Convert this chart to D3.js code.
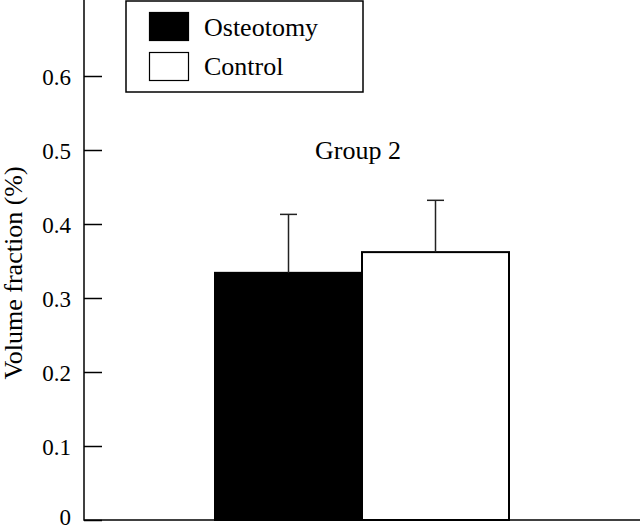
<!DOCTYPE html>
<html>
<head>
<meta charset="utf-8">
<script src="https://cdn.jsdelivr.net/npm/d3@7"></script>
<style>
  html, body { margin: 0; padding: 0; background: #fff; }
  svg { display: block; }
</style>
</head>
<body>
<svg id="chart" width="640" height="529"></svg>
<script>
const groups = ["Group 2"];
const series = ["Osteotomy", "Control"];
const means = [0.334, 0.362];
const errors = [0.079, 0.070];
const fills = ["#000000", "#ffffff"];
const yTicks = [0, 0.1, 0.2, 0.3, 0.4, 0.5, 0.6];
const yLabel = "Volume fraction (%)";

const FONT = "'Liberation Serif'";
const svg = d3.select("#chart");
const x0 = 84, y0 = 520;

const y = d3.scaleLinear().domain([0, 0.7]).range([y0, 2]);
const xGroup = d3.scaleBand().domain(groups).range([215, 509]).padding(0);
const xSeries = d3.scaleBand().domain(series).range([0, xGroup.bandwidth()]).padding(0);

// bars
const g = svg.append("g");
series.forEach((s, i) => {
  const bx = xGroup(groups[0]) + xSeries(s);
  const bw = xSeries.bandwidth();
  g.append("rect")
    .attr("x", bx).attr("y", y(means[i]))
    .attr("width", bw).attr("height", y0 - y(means[i]))
    .attr("fill", fills[i]).attr("stroke", "#000").attr("stroke-width", 2);
  const cx = bx + bw / 2;
  g.append("line")
    .attr("x1", cx).attr("x2", cx)
    .attr("y1", y(means[i])).attr("y2", y(means[i] + errors[i]))
    .attr("stroke", "#222").attr("stroke-width", 1.5);
  g.append("line")
    .attr("x1", cx - 8.5).attr("x2", cx + 8.5)
    .attr("y1", y(means[i] + errors[i])).attr("y2", y(means[i] + errors[i]))
    .attr("stroke", "#222").attr("stroke-width", 1.5);
});

// y axis
const yAxis = d3.axisRight(y).tickValues(yTicks).tickSize(18).tickFormat(d => d === 0 ? "0" : d3.format(".1f")(d));
const ag = svg.append("g").attr("transform", `translate(${x0},0)`).call(yAxis);
ag.attr("font-family", null).attr("font-size", null);
ag.select(".domain").remove();
ag.selectAll(".tick line").attr("stroke", "#000").attr("stroke-width", 1.5);
ag.selectAll(".tick text")
  .attr("x", -13).attr("text-anchor", "end")
  .attr("dy", d => d === 0 ? "0.2em" : "0.35em")
  .attr("fill", "#000")
  .style("font-size", "23px").style("font-family", FONT);

svg.append("line").attr("x1", x0).attr("x2", x0).attr("y1", 0).attr("y2", y0 + 0.75)
  .attr("stroke", "#000").attr("stroke-width", 1.5);
svg.append("line").attr("x1", x0).attr("x2", 640).attr("y1", y0).attr("y2", y0)
  .attr("stroke", "#000").attr("stroke-width", 1.5);

// y label
svg.append("text")
  .attr("transform", `translate(22, 273) rotate(-90)`)
  .attr("text-anchor", "middle")
  .style("font-size", "26px").style("font-family", FONT)
  .text(yLabel);

// group label
svg.append("text")
  .attr("x", xGroup(groups[0]) + xGroup.bandwidth() / 2 - 4).attr("y", 159)
  .attr("text-anchor", "middle")
  .style("font-size", "26px").style("font-family", FONT)
  .text(groups[0]);

// legend
const lg = svg.append("g");
lg.append("rect").attr("x", 126).attr("y", 1).attr("width", 237).attr("height", 91)
  .attr("fill", "#fff").attr("stroke", "#000").attr("stroke-width", 1.5);
series.forEach((s, i) => {
  lg.append("rect").attr("x", 149.5).attr("y", 12.5 + i * 40).attr("width", 39).attr("height", 28)
    .attr("fill", fills[i]).attr("stroke", "#000").attr("stroke-width", 1.2);
  lg.append("text").attr("x", 204).attr("y", 36 + i * 39)
    .style("font-size", "26px").style("font-family", FONT).text(s);
});
</script>
</body>
</html>
